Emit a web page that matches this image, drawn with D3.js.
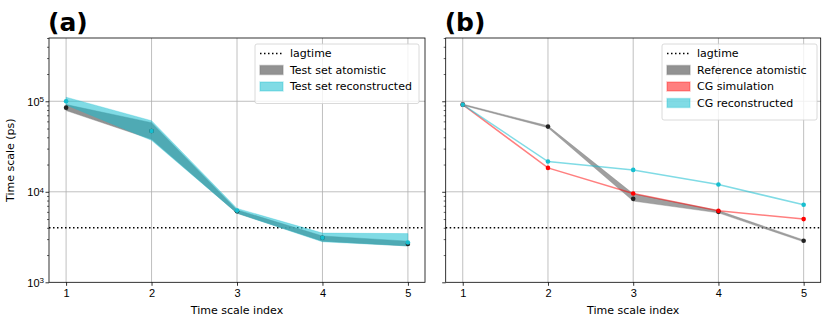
<!DOCTYPE html>
<meta charset="utf-8">
<style>
    body { margin: 0; background: #fff; }
    svg { display: block; font-family: "DejaVu Sans", sans-serif; }
    .grid line { stroke: #b0b0b0; stroke-width: 0.8px; }
    .tick text { font-size: 11px; fill: #000; }
    .legend text { font-size: 11px; }
</style>
<svg width="831" height="324"></svg>
<script src="https://d3js.org/d3.v7.min.js"></script>
<script>
    // time scale index
    var xIdx = [1, 2, 3, 4, 5];
    var lagtime = 4000;

    // panel (a): test set bands (ps)
    var atomLoA = [79000, 38000, 5800, 2850, 2520];
    var atomHiA = [92000, 58000, 6300, 3250, 2850];
    var atomMeanA = [85000, 47000, 6100, 3100, 2650];
    var reconLoA = [91000, 37000, 5800, 2800, 2520];
    var reconHiA = [111000, 61000, 6550, 3500, 3450];
    var reconMeanA = [100000, 47000, 6200, 3100, 2750];

    // panel (b)
    var refLoB = [90500, 51000, 7900, 5850, 2800];
    var refHiB = [93000, 53500, 9500, 6200, 2930];
    var refMeanB = [91700, 52500, 8350, 6000, 2875];
    var cgSimB = [91700, 18350, 9580, 6160, 4990];
    var cgReconB = [91700, 21600, 17450, 12030, 7180];

    var yTickVals = [1e3, 1e4, 1e5];
    var yTickExp = ["3", "4", "5"];

    var svg = d3.select("svg");
    var plotTop = 38, plotBottom = 282.3;

    var y = d3.scaleLog().domain([1e3, 5e5]).range([plotBottom, plotTop]);
    var minorVals = [];
    [1e3, 1e4, 1e5].forEach(function(d) {
        for (var k = 2; k <= 9; k++) if (d * k <= 5e5) minorVals.push(d * k);
    });

    var gray = "#7f7f7f", cyan = "#17becf";

    function panel(left, right, label, showY) {
        var x = d3.scaleLinear().domain([0.8, 5.2]).range([left, right]);
        var g = svg.append("g");

        // grid
        var grid = g.append("g").attr("class", "grid");
        grid.selectAll(".gx").data(xIdx).enter().append("line")
            .attr("x1", function(d) { return x(d); }).attr("x2", function(d) { return x(d); })
            .attr("y1", plotTop).attr("y2", plotBottom);
        grid.selectAll(".gy").data([1e4, 1e5]).enter().append("line")
            .attr("x1", left).attr("x2", right)
            .attr("y1", function(d) { return y(d); }).attr("y2", function(d) { return y(d); });

        // axes
        var xAxis = g.append("g").attr("transform", "translate(0," + plotBottom + ")")
            .call(d3.axisBottom(x).tickValues(xIdx).tickFormat(d3.format("d")).tickSize(3.5).tickPadding(3.5));
        xAxis.select(".domain").remove();
        xAxis.selectAll(".tick line").attr("stroke-width", 0.8);

        var yAxis = g.append("g").attr("transform", "translate(" + left + ",0)")
            .call(d3.axisLeft(y).tickValues(yTickVals).tickFormat("").tickSize(3.5));
        yAxis.select(".domain").remove();
        yAxis.selectAll(".tick line").attr("stroke-width", 0.8);
        g.append("g").attr("transform", "translate(" + left + ",0)")
            .call(d3.axisLeft(y).tickValues(minorVals).tickFormat("").tickSize(2))
            .call(function(s) { s.select(".domain").remove(); s.selectAll("line").attr("stroke-width", 0.6); });

        if (showY) {
            yAxis.selectAll(".tick").each(function(d, i) {
                var t = d3.select(this).append("text").attr("x", -5).attr("dy", "0.35em")
                    .attr("text-anchor", "end").style("font-size", "11px");
                t.append("tspan").text("10");
                t.append("tspan").attr("dy", "-0.45em").style("font-size", "8px").text(yTickExp[i]);
            });
            g.append("text").attr("transform", "translate(14," + ((plotTop + plotBottom) / 2) + ") rotate(-90)")
                .attr("text-anchor", "middle").style("font-size", "11px").text("Time scale (ps)");
        }

        g.append("text").attr("x", (left + right) / 2).attr("y", 314)
            .attr("text-anchor", "middle").style("font-size", "11px").text("Time scale index");

        g.append("text").attr("x", left - 1).attr("y", 31)
            .style("font-size", "25px").style("font-weight", "bold").text(label);

        var plot = g.append("g");
        return { g: g, plot: plot, x: x, left: left, right: right };
    }

    function band(p, lo, hi, color, op) {
        var area = d3.area()
            .x(function(d, i) { return p.x(xIdx[i]); })
            .y0(function(d, i) { return y(lo[i]); })
            .y1(function(d, i) { return y(hi[i]); });
        p.plot.append("path").datum(lo).attr("d", area)
            .attr("fill", color).attr("fill-opacity", op)
            .attr("stroke", color).attr("stroke-opacity", op * 0.6).attr("stroke-width", 0.8);
    }

    function line(p, vals, color, op) {
        var ln = d3.line().x(function(d, i) { return p.x(xIdx[i]); }).y(function(d) { return y(d); });
        p.plot.append("path").datum(vals).attr("d", ln)
            .attr("fill", "none").attr("stroke", color).attr("stroke-opacity", op).attr("stroke-width", 1.5);
    }

    function dots(p, vals, color) {
        p.plot.selectAll(null).data(vals).enter().append("circle")
            .attr("cx", function(d, i) { return p.x(xIdx[i]); })
            .attr("cy", function(d) { return y(d); })
            .attr("r", 2.3).attr("fill", color);
    }

    function lag(p) {
        p.plot.append("line").attr("x1", p.left).attr("x2", p.right)
            .attr("y1", y(lagtime)).attr("y2", y(lagtime))
            .attr("stroke", "#000").attr("stroke-width", 1.5).attr("stroke-dasharray", "1.5,2.5");
    }

    function frame(p) {
        p.g.append("rect").attr("x", p.left).attr("y", plotTop)
            .attr("width", p.right - p.left).attr("height", plotBottom - plotTop)
            .attr("fill", "none").attr("stroke", "#000").attr("stroke-width", 0.8);
    }

    function legend(p, x0, y0, w, items) {
        var lg = p.g.append("g").attr("class", "legend");
        lg.append("rect").attr("x", x0).attr("y", y0).attr("width", w)
            .attr("height", 10 + items.length * 16.5).attr("rx", 2)
            .attr("fill", "#fff").attr("fill-opacity", 0.8).attr("stroke", "#d0d0d0").attr("stroke-width", 0.8);
        items.forEach(function(it, i) {
            var cy = y0 + 9.5 + i * 16.5;
            if (it.dotted) {
                lg.append("line").attr("x1", x0 + 5).attr("x2", x0 + 28).attr("y1", cy).attr("y2", cy)
                    .attr("stroke", "#000").attr("stroke-width", 1.5).attr("stroke-dasharray", "1.5,2.5");
            } else {
                lg.append("rect").attr("x", x0 + 5).attr("y", cy - 4.5).attr("width", 23).attr("height", 9)
                    .attr("fill", it.color).attr("fill-opacity", it.op)
                    .attr("stroke", it.color).attr("stroke-opacity", it.op * 0.5).attr("stroke-width", 1.5);
            }
            lg.append("text").attr("x", x0 + 35).attr("y", cy).attr("dy", "0.35em").text(it.name);
        });
    }

    // panel (a)
    var pa = panel(49, 425, "(a)", true);
    lag(pa);
    band(pa, atomLoA, atomHiA, gray, 0.85);
    band(pa, reconLoA, reconHiA, cyan, 0.55);
    dots(pa, atomMeanA, "#222");
    dots(pa, reconMeanA, cyan);
    frame(pa);
    legend(pa, 255, 44, 164, [
        { name: "lagtime", dotted: true },
        { name: "Test set atomistic", color: gray, op: 0.85 },
        { name: "Test set reconstructed", color: cyan, op: 0.55 }
    ]);

    // panel (b)
    var pb = panel(445.7, 820.7, "(b)", false);
    lag(pb);
    band(pb, refLoB, refHiB, gray, 0.75);
    line(pb, cgSimB, "#ff0000", 0.5);
    line(pb, cgReconB, cyan, 0.55);
    dots(pb, refMeanB, "#222");
    dots(pb, cgSimB, "#ff0000");
    dots(pb, cgReconB, cyan);
    frame(pb);
    legend(pb, 662, 44, 155, [
        { name: "lagtime", dotted: true },
        { name: "Reference atomistic", color: gray, op: 0.85 },
        { name: "CG simulation", color: "#ff0000", op: 0.5 },
        { name: "CG reconstructed", color: cyan, op: 0.55 }
    ]);
</script>
